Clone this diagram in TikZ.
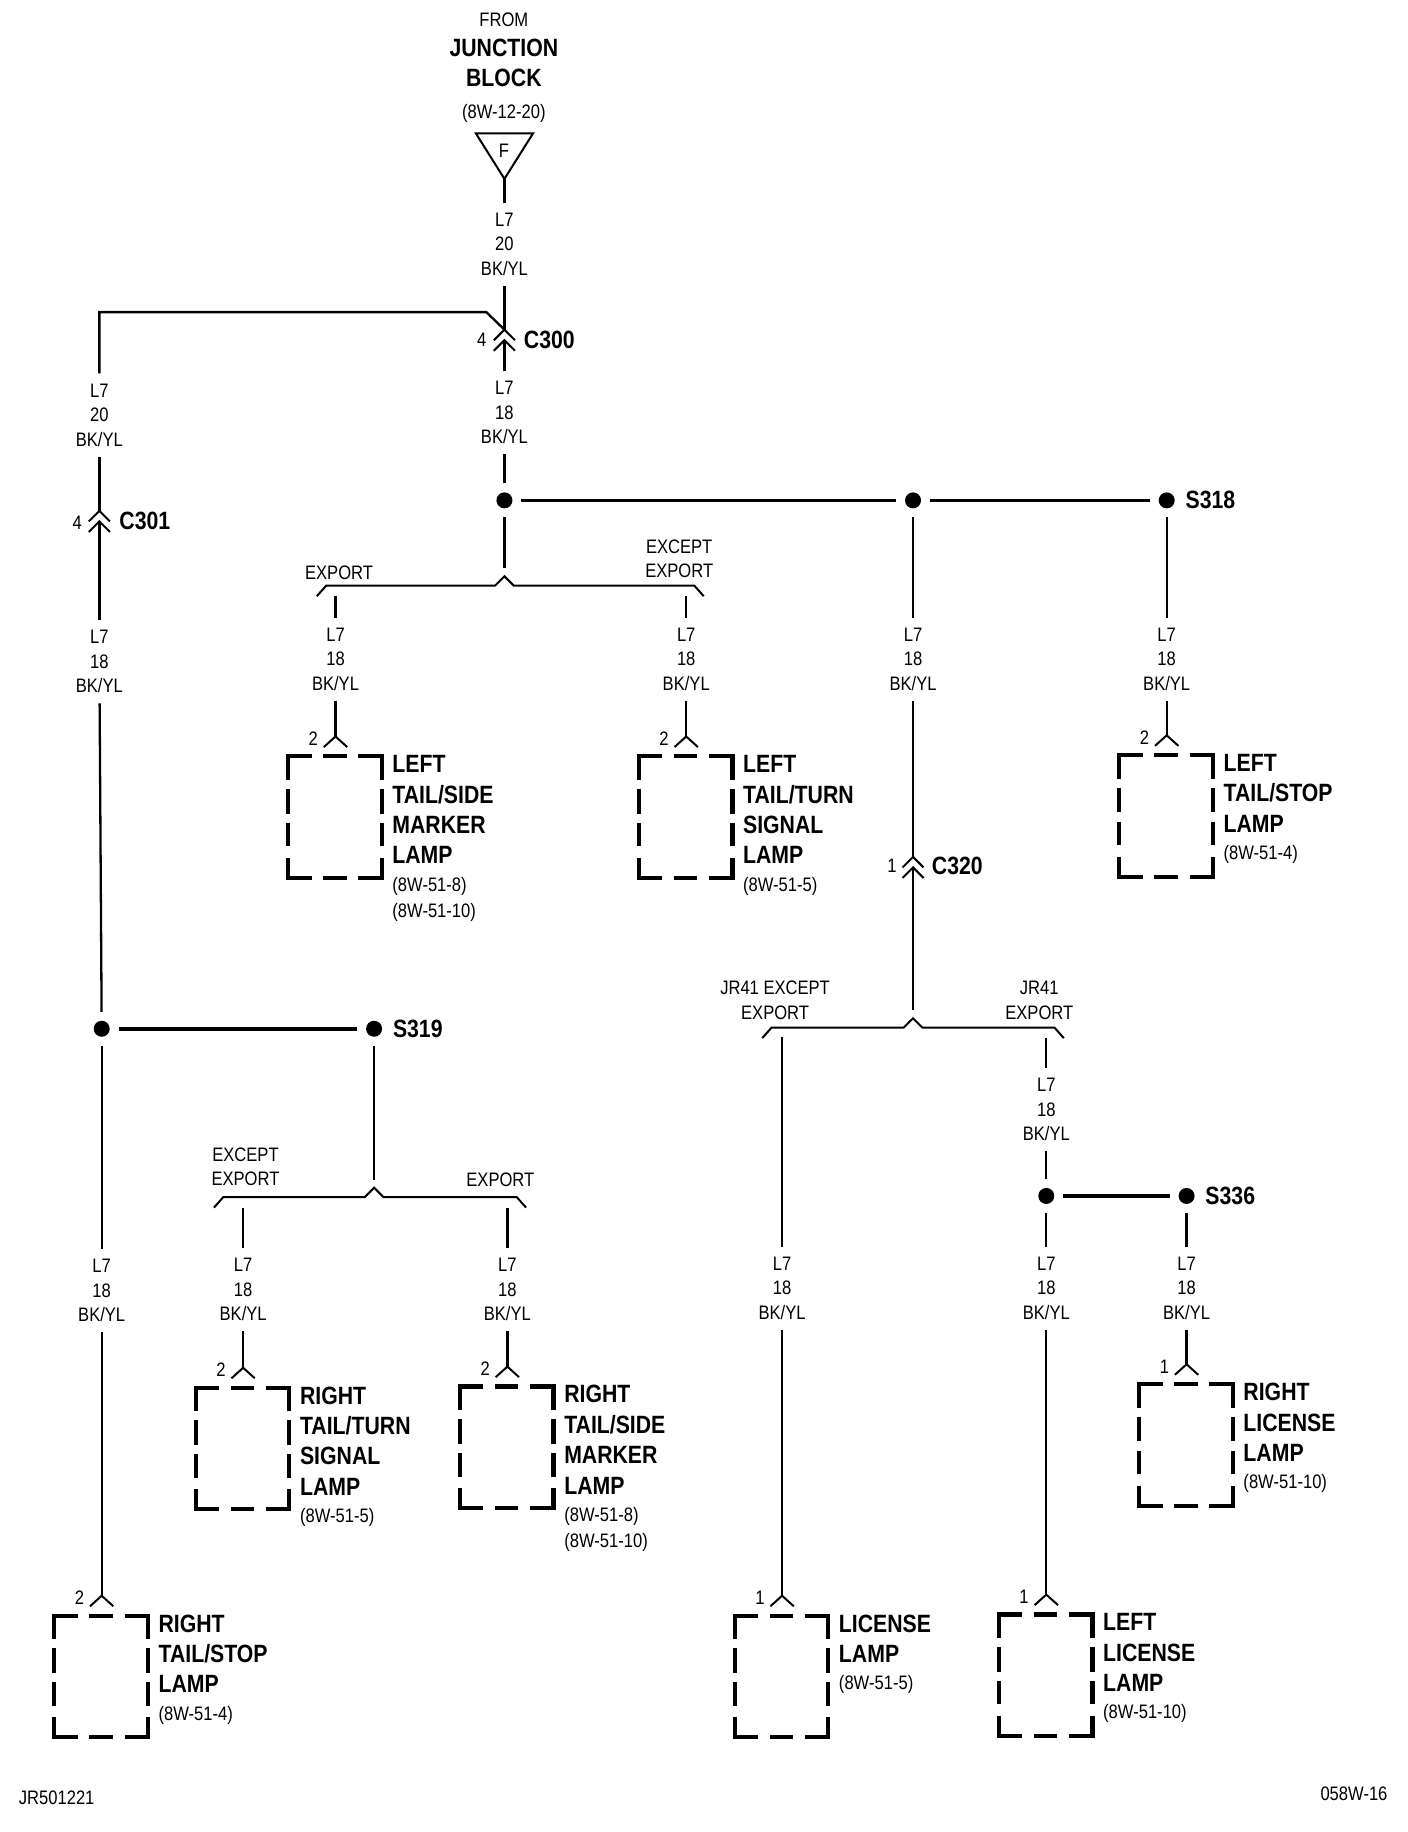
\documentclass[tikz,border=0pt]{standalone}
\usepackage{fontspec}
\setmainfont[FakeStretch=0.85]{Liberation Sans}
\newcommand{\regf}{\fontsize{19.5}{24.6}\selectfont}
\newcommand{\bldf}{\fontsize{25}{30.4}\selectfont\bfseries}
\newcommand{\smlf}{\fontsize{19.5}{25.4}\selectfont\mdseries}
\tikzset{
  wire/.style={line width=2.3pt},
  heavy/.style={line width=3.6pt},
  sym/.style={line width=2pt},
  dashpiece/.style={line width=4.2pt,line cap=butt,line join=miter},
  wirelabel/.style={font=\regf,align=center,inner xsep=0pt,inner ysep=0pt,minimum height=83pt,minimum width=10pt},
  plain/.style={font=\regf,align=center,inner sep=0pt},
  pin/.style={font=\regf,inner sep=0pt},
  tag/.style={font=\bldf,inner sep=0pt,anchor=west},
  splice/.style={circle,fill=black,inner sep=0pt,minimum size=16pt,outer sep=9pt},
  lampbody/.style={inner sep=0pt,minimum width=97pt,minimum height=124pt},
  lamptext/.style={font=\bldf,align=left,inner sep=0pt,anchor=north west},
}
% lamp: name, wire x, box top y (reference pixel units / 1.169), pin no, text
\newcommand{\lamp}[5]{%
  \coordinate (#1in) at (#2,#3-16);
  \node[lampbody,anchor=north] (#1) at (#2,#3) {};
  \draw[sym] (#2-10,#3-7) -- (#1in) -- (#2+10,#3-7);
  \node[pin] (#1pin) at (#2-19,#3-14) {#4};
  \begin{scope}[shift={(#2-40.5,#3+1)}]
    \draw[dashpiece] (0,20) -- (0,0) -- (20,0);
    \draw[dashpiece] (30,0) -- (50,0);
    \draw[dashpiece] (60,0) -- (80,0) -- (80,20);
    \draw[dashpiece] (0,28) -- (0,49);
    \draw[dashpiece] (0,57) -- (0,77);
    \draw[dashpiece] (0,87) -- (0,104) -- (20,104);
    \draw[dashpiece] (30,104) -- (50,104);
    \draw[dashpiece] (60,104) -- (80,104) -- (80,87);
    \draw[dashpiece] (80,28) -- (80,49);
    \draw[dashpiece] (80,57) -- (80,77);
  \end{scope}
  \node[lamptext] (#1text) at (#2+48.5,#3) {#5};
}
% branch: name, left elbow x, caret x, right elbow x, bar y
\newcommand{\branch}[5]{%
  \coordinate (#1in) at (#3,#5-15);
  \draw[sym] (#2-8,#5+9) -- (#2,#5) -- (#3-8,#5) -- (#3,#5-8) -- (#3+8,#5) -- (#4,#5) -- (#4+8,#5+9);
}
% double chevron connector: name, x, top apex y
\newcommand{\dchev}[3]{%
  \coordinate (#1top) at (#2,#3);
  \coordinate (#1bot) at (#2,#3+9);
  \draw[sym] (#2-9,#3+9) -- (#1top) -- (#2+9,#3+9);
  \draw[sym] (#2-9,#3+18) -- (#1bot) -- (#2+9,#3+18);
}
\newcommand{\lbl}[4][]{\node[wirelabel] (#2) at (#3,#4) {L7\\#1\\BK/YL};}
\begin{document}
\begin{tikzpicture}[x=1.169pt,y=-1.169pt]
\useasboundingbox (0,0) rectangle (1204.4,1567.1);
% header
\node[plain] (from) at (431,17) {FROM};
\node[font=\bldf,inner sep=0pt] (jb1) at (431,41) {JUNCTION};
\node[font=\bldf,inner sep=0pt] (jb2) at (431,67) {BLOCK};
\node[plain] (jbref) at (431,97) {(8W-12-20)};
\coordinate (ftl) at (407,114);
\coordinate (ftr) at (456,114);
\coordinate (ftip) at (431.5,153);
\draw[sym,line join=miter] (ftl) -- (ftr) -- (ftip) -- cycle;
\node[plain] (fpin) at (431,129) {F};
% C300 branch
\lbl[20]{la}{431.5}{209}
\draw[wire] (ftip) -- (la);
\dchev{cA}{431.5}{282}
\draw[wire] (la) -- (cAtop);
\node[pin] (cApin) at (412,291) {4};
\node[tag] (cAname) at (448,291) {C300};
\lbl[18]{lb}{431.5}{353}
\draw[wire] (cAbot) -- (lb);
\coordinate (jog1) at (416,267);
\coordinate (jog2) at (85,267);
\lbl[20]{lc}{85}{355}
\draw[wire] (cAtop) -- (jog1) -- (jog2) -- (lc);
% left column
\dchev{cB}{85}{437}
\draw[wire] (lc) -- (cBtop);
\node[pin] (cBpin) at (66,447) {4};
\node[tag] (cBname) at (102,446) {C301};
\lbl[18]{ld}{85}{566}
\draw[wire] (cBbot) -- (ld);
\node[splice] (sa) at (87,880) {};
\draw[wire] (ld) -- (sa);
\node[splice] (sb) at (320,880) {};
\draw[heavy] (sa) -- (sb);
\node[tag] (sbname) at (336,880) {S319};
\lbl[18]{le}{87}{1104}
\draw[wire] (sa) -- (le);
\lamp{lpF}{87}{1381}{2}{RIGHT\\TAIL/STOP\\LAMP\\[-3pt]\smlf (8W-51-4)}
\draw[wire] (le) -- (lpFin);
% S319 split
\branch{bS}{191}{320}{442}{1024}
\draw[wire] (sb) -- (bSin);
\node[plain] (bStxtl) at (210,998) {EXCEPT\\EXPORT};
\node[plain] (bStxtr) at (428,1009) {EXPORT};
\coordinate (bSl) at (208,1033);
\coordinate (bSr) at (434,1033);
\lbl[18]{lf}{208}{1103}
\lbl[18]{lg}{434}{1103}
\draw[wire] (bSl) -- (lf);
\draw[wire] (bSr) -- (lg);
\lamp{lpD}{208}{1186}{2}{RIGHT\\TAIL/TURN\\SIGNAL\\LAMP\\[-3pt]\smlf (8W-51-5)}
\lamp{lpE}{434}{1185}{2}{RIGHT\\TAIL/SIDE\\MARKER\\LAMP\\[-3pt]\smlf (8W-51-8)\\[-4pt]\smlf (8W-51-10)}
\draw[wire] (lf) -- (lpDin);
\draw[wire] (lg) -- (lpEin);
% top bus
\node[splice] (sc) at (431.5,428) {};
\node[splice] (sd) at (781,428) {};
\node[splice] (se) at (998,428) {};
\draw[wire] (lb) -- (sc);
\draw[heavy] (sc) -- (sd);
\draw[wire,line width=2.8pt] (sd) -- (se);
\node[tag] (sename) at (1014,428) {S318};
% export split
\branch{bE}{279}{431.5}{594}{501}
\draw[wire] (sc) -- (bEin);
\node[plain] (bEtxtl) at (290,490) {EXPORT};
\node[plain] (bEtxtr) at (581,478) {EXCEPT\\EXPORT};
\coordinate (bEl) at (287,510);
\coordinate (bEr) at (587,510);
\lbl[18]{lh}{287}{564}
\lbl[18]{li}{587}{564}
\draw[wire] (bEl) -- (lh);
\draw[wire] (bEr) -- (li);
\lamp{lpA}{287}{646}{2}{LEFT\\TAIL/SIDE\\MARKER\\LAMP\\[-3pt]\smlf (8W-51-8)\\[-4pt]\smlf (8W-51-10)}
\lamp{lpB}{587}{646}{2}{LEFT\\TAIL/TURN\\SIGNAL\\LAMP\\[-3pt]\smlf (8W-51-5)}
\draw[wire] (lh) -- (lpAin);
\draw[wire] (li) -- (lpBin);
% S318 drop
\lbl[18]{lj}{998}{564}
\draw[wire] (se) -- (lj);
\lamp{lpC}{998}{645}{2}{LEFT\\TAIL/STOP\\LAMP\\[-3pt]\smlf (8W-51-4)}
\draw[wire] (lj) -- (lpCin);
% C320 drop
\lbl[18]{lk}{781}{564}
\draw[wire] (sd) -- (lk);
\dchev{cC}{781}{733}
\draw[wire] (lk) -- (cCtop);
\node[pin] (cCpin) at (763,741) {1};
\node[tag] (cCname) at (797,741) {C320};
\branch{bL}{660}{781}{902}{879}
\draw[wire] (cCbot) -- (bLin);
\node[plain] (bLtxtl) at (663,855.5) {JR41 EXCEPT\\EXPORT};
\node[plain] (bLtxtr) at (889,855.5) {JR41\\EXPORT};
\coordinate (bLl) at (669,887);
\coordinate (bLr) at (895,888);
\lbl[18]{ll}{669}{1102}
\lbl[18]{lm}{895}{949}
\draw[wire] (bLl) -- (ll);
\draw[wire] (bLr) -- (lm);
\lamp{lpG}{669}{1381}{1}{LICENSE\\LAMP\\[-3pt]\smlf (8W-51-5)}
\draw[wire] (ll) -- (lpGin);
\node[splice] (sf) at (895,1023) {};
\node[splice] (sg) at (1015,1023) {};
\draw[wire] (lm) -- (sf);
\draw[heavy] (sf) -- (sg);
\node[tag] (sgname) at (1031,1023) {S336};
\lbl[18]{ln}{895}{1102}
\lbl[18]{lo}{1015}{1102}
\draw[wire] (sf) -- (ln);
\draw[wire] (sg) -- (lo);
\lamp{lpH}{895}{1380}{1}{LEFT\\LICENSE\\LAMP\\[-3pt]\smlf (8W-51-10)}
\lamp{lpI}{1015}{1183}{1}{RIGHT\\LICENSE\\LAMP\\[-3pt]\smlf (8W-51-10)}
\draw[wire] (ln) -- (lpHin);
\draw[wire] (lo) -- (lpIin);
% footer
\node[plain,anchor=west] (fl) at (16,1538) {JR501221};
\node[plain,anchor=east] (fr) at (1187,1534) {058W-16};
\end{tikzpicture}
\end{document}
